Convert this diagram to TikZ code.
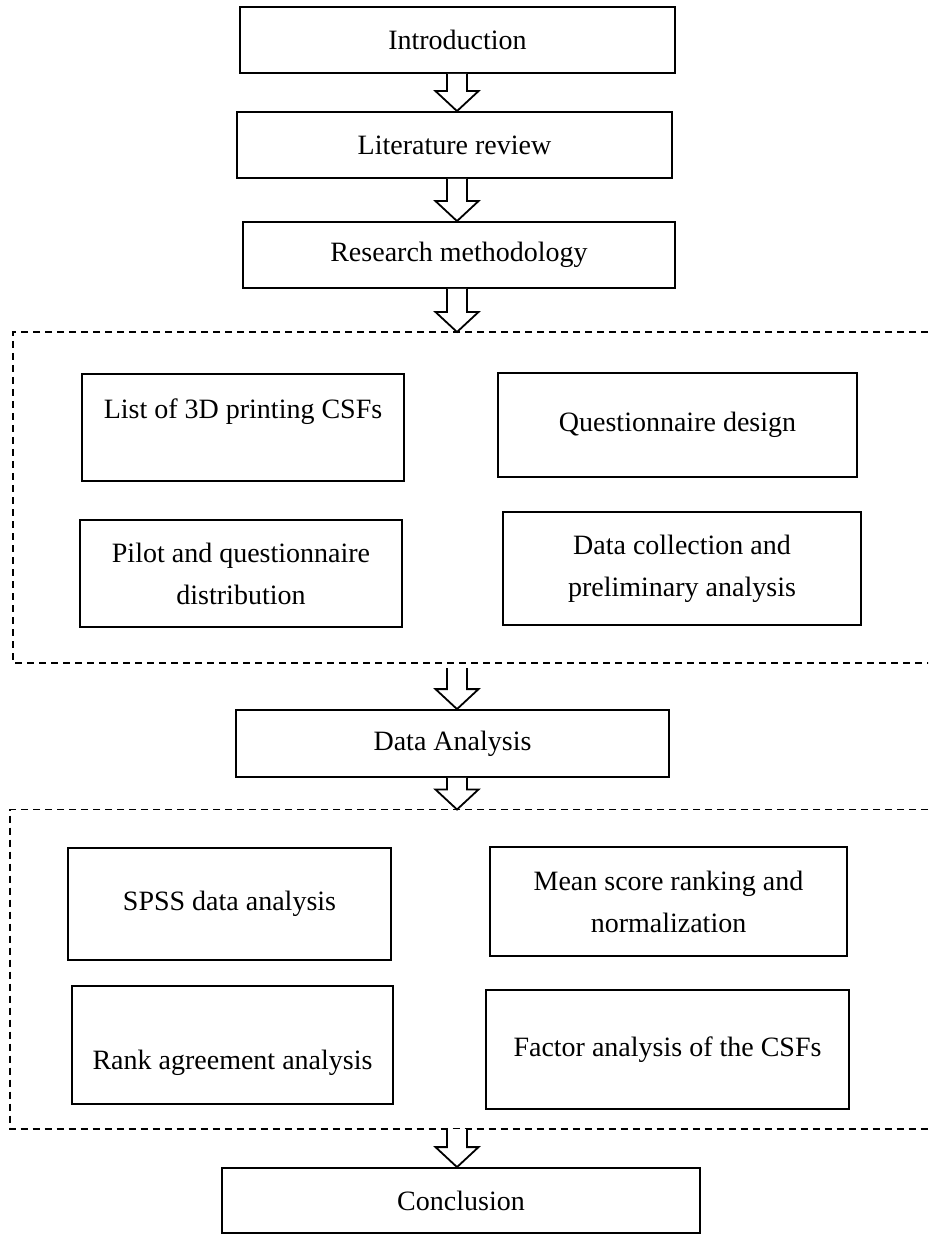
\documentclass[tikz,border=0pt]{standalone}
\usepackage{fontspec}
\setmainfont{Liberation Serif}
\usetikzlibrary{calc}

\tikzset{
    stepbox/.style={draw, line width=0.9pt, align=center, inner sep=0pt,
        font=\fontsize{14}{21}\selectfont},
    groupline/.style={line width=0.8pt, dash pattern=on 3.5pt off 2.5pt},
    arrowbody/.style={draw, line width=0.9pt, fill=white, line join=miter}
}
\newcommand{\flowarrow}[2]{%
    \draw[arrowbody] let \p1=(#1), \p2=(#2) in
        (\x1-5pt,\y1) -- (\x1-5pt,\y2+10pt) -- (\x1-10.75pt,\y2+10pt) -- (\x1,\y2)
        -- (\x1+10.75pt,\y2+10pt) -- (\x1+5pt,\y2+10pt) -- (\x1+5pt,\y1);}

\begin{document}
\begin{tikzpicture}[x=0.5pt, y=-0.5pt]
    \useasboundingbox (0,0) rectangle (928,1234);
    \clip (0,0) rectangle (928,1234);
    \coordinate (axis) at (457,0);

    % main line
    \node[stepbox, minimum width=217.5pt, minimum height=33pt] (intro) at (457.5,40) {Introduction};
    \node[stepbox, minimum width=217.5pt, minimum height=33pt] (litrev) at (454.5,145) {Literature review};
    \node[stepbox, minimum width=216pt, minimum height=33pt] (method) at (459,255) {Research methodology};

    % first group
    \draw[groupline] (940,332) -- (13,332) -- (13,663) -- (940,663);
    \coordinate (grpAtop) at (457,332);
    \coordinate (grpAbot) at (457,668);
    \node[stepbox, minimum width=161pt, minimum height=53.5pt, text depth=19pt] (csflist) at (243,427.5) {List of 3D printing CSFs};
    \node[stepbox, minimum width=179.5pt, minimum height=52pt] (qdesign) at (677.5,425) {Questionnaire design};
    \node[stepbox, minimum width=161pt, minimum height=53.5pt] (pilot) at (241,573.5) {Pilot and questionnaire\\distribution};
    \node[stepbox, minimum width=179pt, minimum height=56.5pt] (collect) at (682,568.5) {Data collection and\\preliminary analysis};

    \node[stepbox, minimum width=216.5pt, minimum height=33.5pt] (analysis) at (452.5,743.5) {Data Analysis};

    % second group
    \draw[groupline] (940,809.5) -- (10,809.5) -- (10,1129) -- (940,1129);
    \coordinate (grpBtop) at (457,809.5);
    \coordinate (grpBbot) at (457,1129);
    \node[stepbox, minimum width=161.5pt, minimum height=56pt] (spss) at (229.5,904) {SPSS data analysis};
    \node[stepbox, minimum width=178.5pt, minimum height=54.5pt] (meanscore) at (668.5,901.5) {Mean score ranking and\\normalization};
    \node[stepbox, minimum width=160.5pt, minimum height=59pt, text height=27.8pt] (rankagree) at (232.5,1045) {Rank agreement analysis};
    \node[stepbox, minimum width=181.5pt, minimum height=59.5pt] (factor) at (667.5,1049.5) {Factor analysis of the CSFs};

    \node[stepbox, minimum width=239pt, minimum height=32.5pt] (concl) at (461,1200.5) {Conclusion};

    % block arrows
    \flowarrow{axis |- intro.south}{axis |- litrev.north}
    \flowarrow{axis |- litrev.south}{axis |- method.north}
    \flowarrow{axis |- method.south}{grpAtop}
    \flowarrow{grpAbot}{axis |- analysis.north}
    \flowarrow{axis |- analysis.south}{grpBtop}
    \flowarrow{grpBbot}{axis |- concl.north}
\end{tikzpicture}
\end{document}
